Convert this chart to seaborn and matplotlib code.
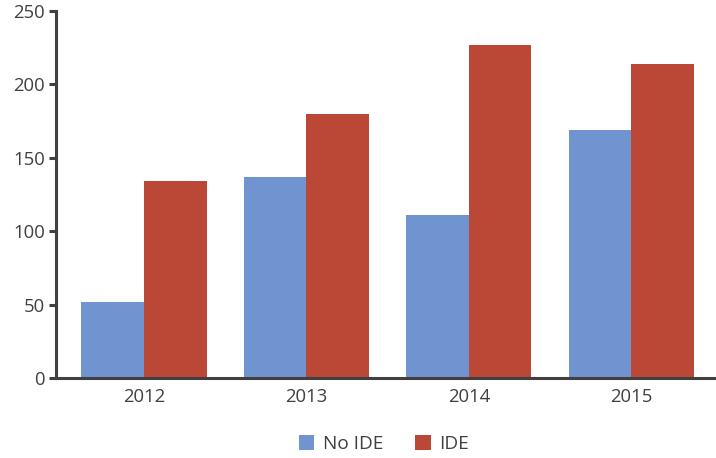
import matplotlib
matplotlib.use("Agg")
import matplotlib.pyplot as plt
import pandas as pd
import seaborn as sns

# Values
years = ["2012", "2013", "2014", "2015"]
no_ide = [52, 137, 111, 169]
ide = [134, 180, 227, 214]
series_names = ["No IDE", "IDE"]
y_ticks = [0, 50, 100, 150, 200, 250]

df = pd.DataFrame({
    "Year": years * 2,
    "Count": no_ide + ide,
    "Group": [series_names[0]] * len(years) + [series_names[1]] * len(years),
})

sns.set_style("white")
plt.rcParams["font.family"] = ["Open Sans", "DejaVu Sans"]
text_color = "#404040"

fig = plt.figure(figsize=(7.16, 4.58), dpi=100)
ax = fig.add_axes([56 / 716, 1 - 378 / 458, 1 - 56 / 716, (378 - 11) / 458])

sns.barplot(
    data=df, x="Year", y="Count", hue="Group",
    palette=["#7094CF", "#BB4837"], width=0.77, gap=0,
    saturation=1, linewidth=0, ax=ax,
)

ax.set_xlim(-0.542, 3.522)
ax.set_ylim(0, 250)
ax.set_yticks(y_ticks)
ax.set_xlabel("")
ax.set_ylabel("")

for side in ["top", "right"]:
    ax.spines[side].set_visible(False)
for side in ["left", "bottom"]:
    ax.spines[side].set_color(text_color)
    ax.spines[side].set_linewidth(2.2)

ax.tick_params(axis="y", length=5, width=2.2, color=text_color, pad=3,
               labelsize=13.3, labelcolor=text_color, left=True)
ax.tick_params(axis="x", length=0, pad=7, labelsize=13.3, labelcolor=text_color)

handles, labels = ax.get_legend_handles_labels()
ax.get_legend().remove()
fig.legend(handles, labels, loc="center", bbox_to_anchor=(384 / 716, 1 - 444 / 458),
           ncol=2, frameon=False, fontsize=13.7, handlelength=0.8, handleheight=0.8,
           handletextpad=0.45, columnspacing=1.7, labelcolor=text_color)

fig.savefig("out.png", dpi=100)
plt.close(fig)
